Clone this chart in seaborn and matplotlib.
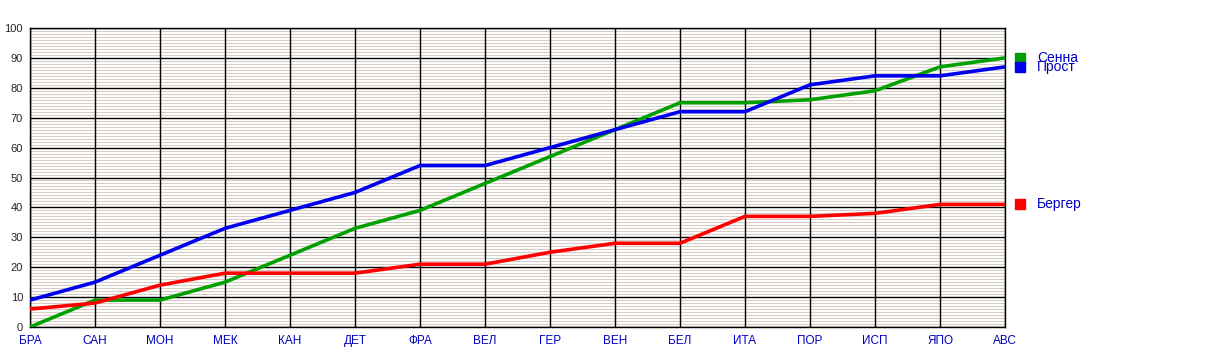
import matplotlib
matplotlib.use("Agg")
import matplotlib.pyplot as plt
import matplotlib.transforms as mtransforms
from matplotlib.ticker import MultipleLocator
import seaborn as sns
import pandas as pd

races = ["БРА", "САН", "МОН", "МЕК", "КАН", "ДЕТ", "ФРА", "ВЕЛ",
         "ГЕР", "ВЕН", "БЕЛ", "ИТА", "ПОР", "ИСП", "ЯПО", "АВС"]
senna = [0, 9, 9, 15, 24, 33, 39, 48, 57, 66, 75, 75, 76, 79, 87, 90]
prost = [9, 15, 24, 33, 39, 45, 54, 54, 60, 66, 72, 72, 81, 84, 84, 87]
berger = [6, 8, 14, 18, 18, 18, 21, 21, 25, 28, 28, 37, 37, 38, 41, 41]
drivers = ["Сенна", "Прост", "Бергер"]
colors = ["#00a000", "#0000ee", "#ff0000"]

sns.set_style("white")
plt.rcParams["font.family"] = ["Liberation Sans", "DejaVu Sans"]

rows = []
for name, vals in zip(drivers, [senna, prost, berger]):
    for i, v in enumerate(vals):
        rows.append({"idx": i, "pts": v, "driver": name})
df = pd.DataFrame(rows)

fig = plt.figure(figsize=(12.05, 3.57), dpi=100)
ax = fig.add_axes([30/1205, 1 - 327/357, (1005-30)/1205, (327-28)/357])

ax.set_xlim(0, len(races) - 1)
ax.set_ylim(0, 100)
ax.yaxis.set_major_locator(MultipleLocator(10))
ax.yaxis.set_minor_locator(MultipleLocator(1))
ax.set_xticks(range(len(races)))
ax.set_xticklabels(races, color="#0000c0", fontsize=8.5)
ax.tick_params(axis="y", which="major", labelsize=8, length=3, width=1, direction="out", pad=2)
ax.tick_params(axis="y", which="minor", length=3, width=0.8, direction="in")
ax.tick_params(axis="x", length=0, pad=6)

ax.grid(which="minor", axis="y", color="#d8cdc6", linewidth=0.8)
ax.grid(which="major", axis="y", color="black", linewidth=1.0)
ax.grid(False, axis="x")
ax.set_axisbelow(True)
ax.vlines(range(len(races)), 0, 100, colors="black", linewidth=1.0, zorder=1)
for s in ax.spines.values():
    s.set_color("black")
    s.set_linewidth(1.0)

sns.lineplot(data=df, x="idx", y="pts", hue="driver", palette=colors,
             hue_order=drivers, linewidth=2.6, legend=False, ax=ax, zorder=3)
ax.set_xlabel("")
ax.set_ylabel("")

for name, vals, c in zip(drivers, [senna, prost, berger], colors):
    x0, y0 = len(races) - 1, vals[-1]
    tr_sq = mtransforms.offset_copy(ax.transData, fig=fig, x=15, y=0, units="dots")
    ax.plot([x0], [y0], marker="s", markersize=6.5, color=c, transform=tr_sq,
            clip_on=False, linestyle="none")
    tr_tx = mtransforms.offset_copy(ax.transData, fig=fig, x=32, y=0, units="dots")
    ax.text(x0, y0, name, transform=tr_tx, color="#0000c0", fontsize=10,
            va="center", ha="left", clip_on=False)

fig.savefig("out.png", dpi=100)
